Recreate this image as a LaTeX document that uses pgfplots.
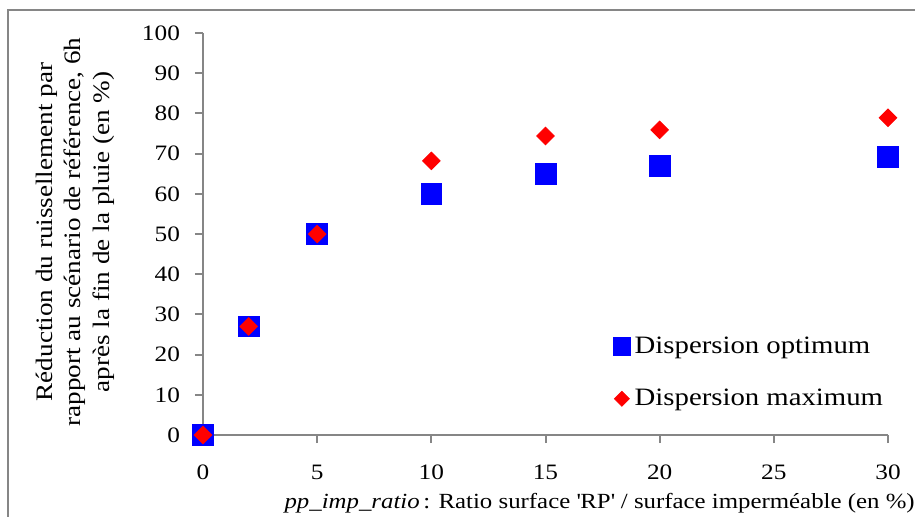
\documentclass[border=0pt]{standalone}
\usepackage{fontspec}
\setmainfont{Liberation Serif}[FakeStretch=1.15]
\usepackage{pgfplots}
\pgfplotsset{compat=1.18}
\definecolor{axgray}{RGB}{134,134,134}
\begin{document}
\begin{tikzpicture}
\useasboundingbox (-101.5pt,-40.5pt) rectangle (356pt,217.5pt);
\draw[axgray, line width=0.8pt] (-97.5pt,-45pt) -- (-97.5pt,212.5pt) -- (360pt,212.5pt);
\begin{axis}[
  at={(0pt,0pt)}, anchor=south west,
  scale only axis, width=342.5pt, height=201pt,
  xmin=0, xmax=30, ymin=0, ymax=100,
  xtick={0,5,...,30}, ytick={0,10,...,100},
  axis x line*=bottom, axis y line*=left,
  axis line style={axgray, line width=1pt},
  tick style={axgray, line width=1pt},
  tick align=outside, major tick length=4pt,
  clip=false,
  /pgf/number format/assume math mode=true,
  ticklabel style={font=\fontsize{11}{12}\selectfont},
  yticklabel style={xshift=-4pt},
  xticklabel style={yshift=-7.5pt},
  xlabel={\textit{pp\_imp\_ratio}\,: Ratio surface \textquotesingle RP\textquotesingle{} / surface imperméable (en \%)},
  xlabel style={at={(axis description cs:0.579,-0.169)}, anchor=center, font=\fontsize{10.8}{12}\selectfont},
  ylabel={Réduction du ruissellement par\\rapport au scénario de référence, 6h\\après la fin de la pluie (en \%)},
  ylabel style={at={(axis description cs:-0.187,0.505)}, anchor=center, align=center, font=\fontsize{11.8}{14.25}\selectfont},
  legend style={draw=none, fill=none, at={(axis description cs:0.598,0.256)}, anchor=north west, font=\fontsize{12.5}{15}\selectfont, row sep=12.5pt, inner sep=0pt},
  legend cell align=left,
  legend image code/.code={\draw[#1, every mark/.append style={scale=0.85}] plot coordinates {(0.2cm,0cm)};},
]
\addplot[only marks, mark=square*, mark size=5.2pt, color=blue] coordinates {
(0,0) (2,27) (5,50) (10,60) (15,65) (20,67) (30,69.2)};
\addlegendentry{Dispersion optimum}
\addplot[only marks, mark=square*, mark size=3.1pt, mark options={rotate=45}, color=red] coordinates {
(0,0) (2,27) (5,50) (10,68.2) (15,74.4) (20,75.9) (30,78.9)};
\addlegendentry{Dispersion maximum}
\end{axis}
\end{tikzpicture}
\end{document}
